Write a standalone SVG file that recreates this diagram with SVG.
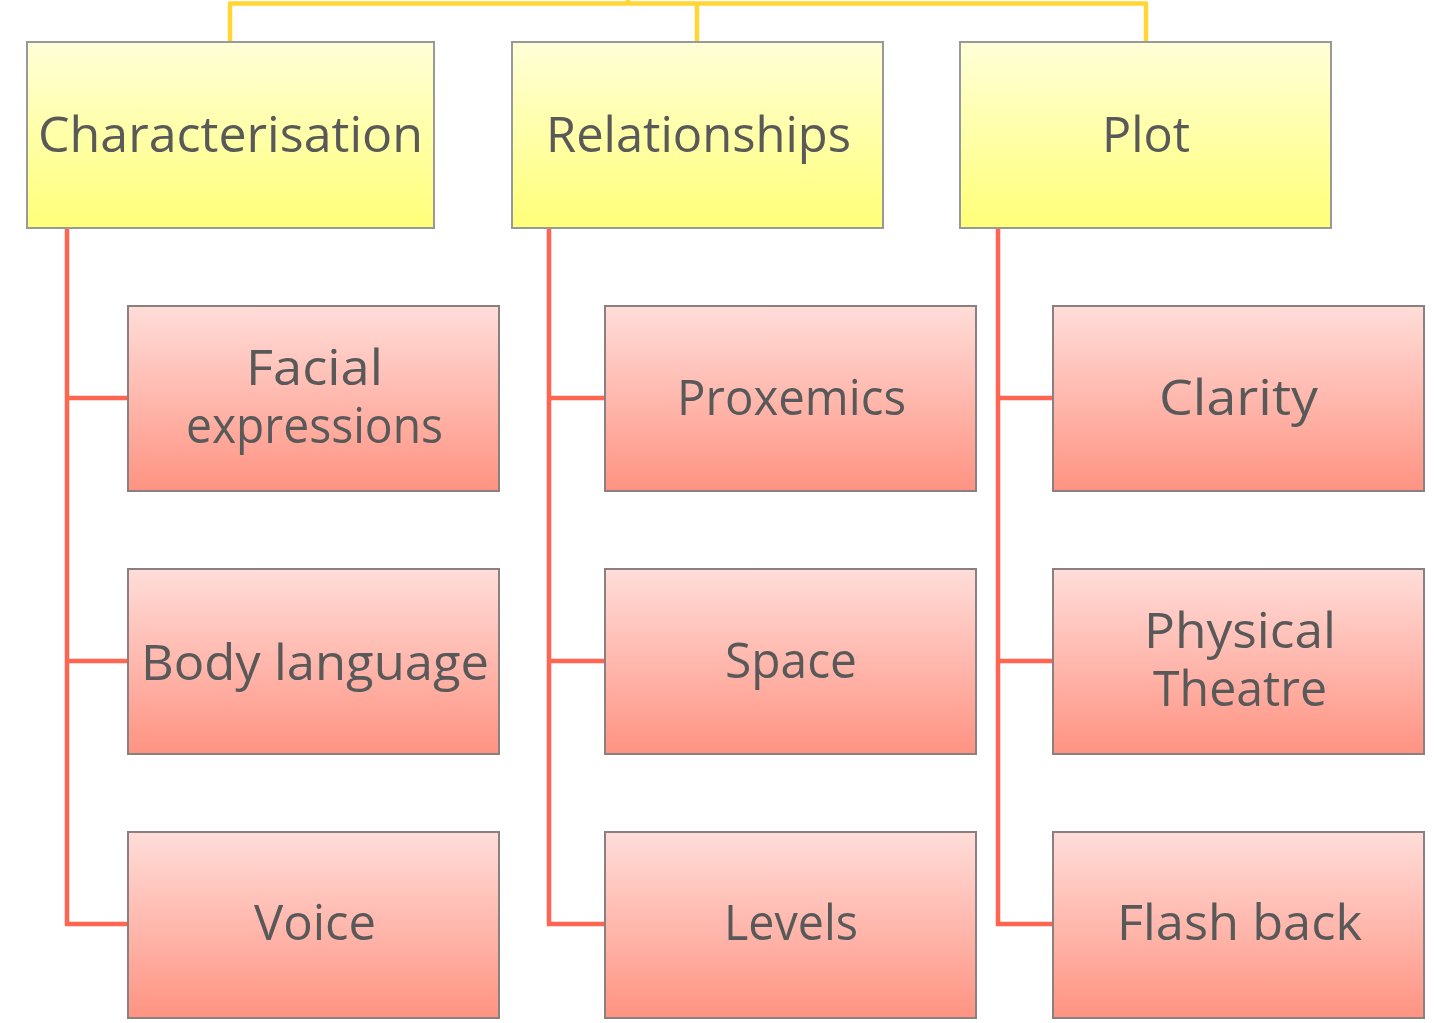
<svg xmlns="http://www.w3.org/2000/svg" width="1434" height="1023" viewBox="0 0 1434 1023">
<defs>
<linearGradient id="gy" x1="0" y1="0" x2="0" y2="1">
<stop offset="0" stop-color="#FFFFD8"/>
<stop offset="1" stop-color="#FFFF78"/>
</linearGradient>
<linearGradient id="gp" x1="0" y1="0" x2="0" y2="1">
<stop offset="0" stop-color="#FFDDD9"/>
<stop offset="1" stop-color="#FF9382"/>
</linearGradient>
<style>
.y{fill:url(#gy);stroke:#999;stroke-width:2}
.p{fill:url(#gp);stroke:#8a8080;stroke-width:2}
.t{font-family:"Open Sans","Liberation Sans",sans-serif;font-size:50px;fill:#595959;text-anchor:middle}
.cy{fill:none;stroke:#FFD633;stroke-width:4.5;stroke-linejoin:round}
.cr{fill:none;stroke:#FF6550;stroke-width:4.5}
</style>
</defs>
<rect width="1434" height="1023" fill="#fff"/>
<g id="connectors">
<path class="cy" d="M230 42V3.5H1146V42M697 42V3.5M628 3.5V0"/>
<path class="cr" d="M67 228V924H128M67 398H128M67 661H128"/>
<path class="cr" d="M549 228V924H605M549 398H605M549 661H605"/>
<path class="cr" d="M998 228V924H1053M998 398H1053M998 661H1053"/>
</g>
<g id="characterisation"><rect class="y" x="27" y="42" width="407" height="186"/><text class="t" x="230.5" y="152" textLength="385" lengthAdjust="spacingAndGlyphs">Characterisation</text></g>
<g id="relationships"><rect class="y" x="512" y="42" width="371" height="186"/><text class="t" x="698.5" y="152" textLength="305" lengthAdjust="spacingAndGlyphs">Relationships</text></g>
<g id="plot"><rect class="y" x="960" y="42" width="371" height="186"/><text class="t" x="1146" y="152" textLength="88" lengthAdjust="spacingAndGlyphs">Plot</text></g>
<g id="facial"><rect class="p" x="128" y="306" width="371" height="185"/><text class="t" x="314.5" y="385" textLength="137" lengthAdjust="spacingAndGlyphs">Facial</text><text class="t" x="314.5" y="443" textLength="257" lengthAdjust="spacingAndGlyphs">expressions</text></g>
<g id="body"><rect class="p" x="128" y="569" width="371" height="185"/><text class="t" x="315" y="680" textLength="348" lengthAdjust="spacingAndGlyphs">Body language</text></g>
<g id="voice"><rect class="p" x="128" y="832" width="371" height="186"/><text class="t" x="315" y="940" textLength="122" lengthAdjust="spacingAndGlyphs">Voice</text></g>
<g id="proxemics"><rect class="p" x="605" y="306" width="371" height="185"/><text class="t" x="791.5" y="415" textLength="229" lengthAdjust="spacingAndGlyphs">Proxemics</text></g>
<g id="space"><rect class="p" x="605" y="569" width="371" height="185"/><text class="t" x="791" y="678" textLength="132" lengthAdjust="spacingAndGlyphs">Space</text></g>
<g id="levels"><rect class="p" x="605" y="832" width="371" height="186"/><text class="t" x="791" y="940" textLength="134" lengthAdjust="spacingAndGlyphs">Levels</text></g>
<g id="clarity"><rect class="p" x="1053" y="306" width="371" height="185"/><text class="t" x="1238.5" y="415" textLength="159" lengthAdjust="spacingAndGlyphs">Clarity</text></g>
<g id="physical"><rect class="p" x="1053" y="569" width="371" height="185"/><text class="t" x="1240" y="648" textLength="192" lengthAdjust="spacingAndGlyphs">Physical</text><text class="t" x="1240" y="706" textLength="174" lengthAdjust="spacingAndGlyphs">Theatre</text></g>
<g id="flashback"><rect class="p" x="1053" y="832" width="371" height="186"/><text class="t" x="1239.5" y="940" textLength="245" lengthAdjust="spacingAndGlyphs">Flash back</text></g>
</svg>
